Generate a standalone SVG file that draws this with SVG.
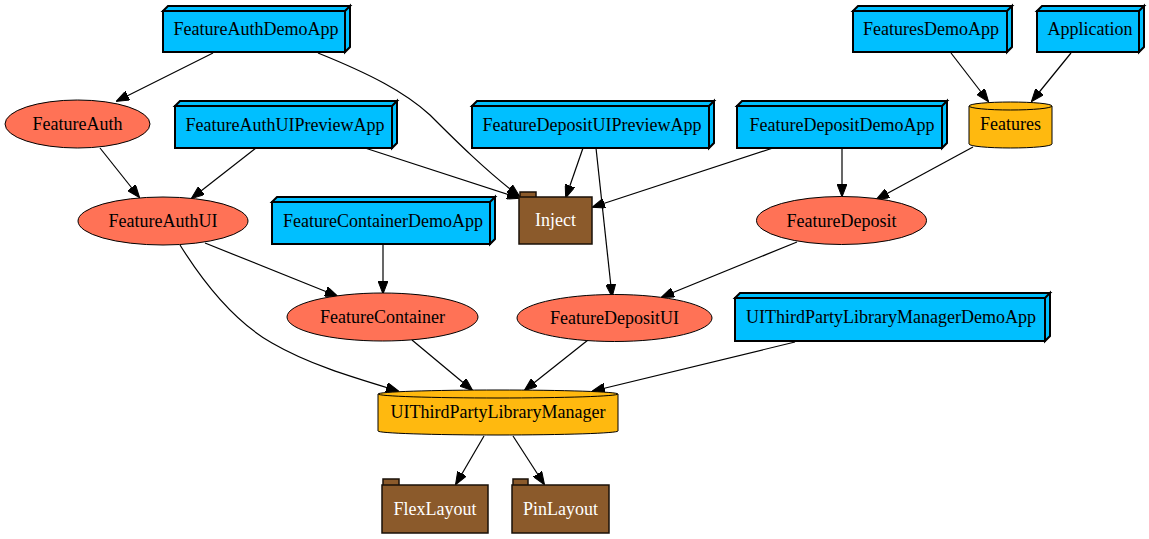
<svg xmlns="http://www.w3.org/2000/svg" width="1149" height="539" viewBox="0 0 1149 539">
<defs>
<marker id="arr" viewBox="0 0 13 10" refX="12" refY="5" markerWidth="13" markerHeight="10" markerUnits="userSpaceOnUse" orient="auto">
<path d="M0,0 L13,5 L0,10 Z" fill="#000" stroke="#000" stroke-width="1"/>
</marker>
</defs>
<style>
text{font-family:"Liberation Serif","Times New Roman",serif;font-size:18px;text-anchor:middle;fill:#000}
.b3 path{fill:#00BFFF;stroke:#000;stroke-width:2;stroke-linejoin:miter}
.el ellipse{fill:#FF7256;stroke:#000;stroke-width:1}
.cy path{fill:#FFB90F;stroke:#000;stroke-width:1}
.fo path{fill:#8B5A2B;stroke:#1a1008;stroke-width:1.5}
.fo text{fill:#fff}
#edges path{fill:none;stroke:#000;stroke-width:1.2;marker-end:url(#arr)}
</style>
<rect width="1149" height="539" fill="#fff"/>
<g id="edges">
<path d="M213,53 L117,101"/>
<path d="M318,53 C370,74 405,92 430,115 C455,140 485,170 519,196"/>
<path d="M100,148 L139,197"/>
<path d="M256,148 L192,198"/>
<path d="M365,148 L519,198"/>
<path d="M583,148 L566,197"/>
<path d="M596,148 L612,296"/>
<path d="M773,148 L593,207"/>
<path d="M842,148 L842,196"/>
<path d="M951,53 L988,101"/>
<path d="M1071,53 L1032,101"/>
<path d="M973,147 L877,199"/>
<path d="M205,243 L337,296"/>
<path d="M180,245 C205,285 235,322 272,343 C310,365 355,378 398,391"/>
<path d="M383,244 L383,293"/>
<path d="M797,242 L662,297"/>
<path d="M412,340 L472,390"/>
<path d="M588,340 L525,390"/>
<path d="M795,342 L593,391"/>
<path d="M484,436 L456,484"/>
<path d="M513,436 L544,484"/>
</g>
<g id="FeatureAuthDemoApp" class="b3">
<path d="M163,11 L168,6 L350,6 L345,11 Z M345,11 L350,6 L350,47 L345,52 Z M163,11 L345,11 L345,52 L163,52 Z"/>
<text x="256" y="35">FeatureAuthDemoApp</text>
</g>
<g id="FeaturesDemoApp" class="b3">
<path d="M853,11 L858,6 L1012,6 L1007,11 Z M1007,11 L1012,6 L1012,47 L1007,52 Z M853,11 L1007,11 L1007,52 L853,52 Z"/>
<text x="931" y="35">FeaturesDemoApp</text>
</g>
<g id="Application" class="b3">
<path d="M1037,11 L1042,6 L1144,6 L1139,11 Z M1139,11 L1144,6 L1144,47 L1139,52 Z M1037,11 L1139,11 L1139,52 L1037,52 Z"/>
<text x="1090" y="35">Application</text>
</g>
<g id="FeatureAuthUIPreviewApp" class="b3">
<path d="M175,106 L180,101 L397,101 L392,106 Z M392,106 L397,101 L397,143 L392,148 Z M175,106 L392,106 L392,148 L175,148 Z"/>
<text x="285" y="131">FeatureAuthUIPreviewApp</text>
</g>
<g id="FeatureDepositUIPreviewApp" class="b3">
<path d="M472,106 L477,101 L714,101 L709,106 Z M709,106 L714,101 L714,143 L709,148 Z M472,106 L709,106 L709,148 L472,148 Z"/>
<text x="592" y="131">FeatureDepositUIPreviewApp</text>
</g>
<g id="FeatureDepositDemoApp" class="b3">
<path d="M737,106 L742,101 L947,101 L942,106 Z M942,106 L947,101 L947,143 L942,148 Z M737,106 L942,106 L942,148 L737,148 Z"/>
<text x="842" y="131">FeatureDepositDemoApp</text>
</g>
<g id="FeatureContainerDemoApp" class="b3">
<path d="M272,202 L277,197 L495,197 L490,202 Z M490,202 L495,197 L495,239 L490,244 Z M272,202 L490,202 L490,244 L272,244 Z"/>
<text x="383" y="227">FeatureContainerDemoApp</text>
</g>
<g id="UIThirdPartyLibraryManagerDemoApp" class="b3">
<path d="M735,298 L740,293 L1050,293 L1045,298 Z M1045,298 L1050,293 L1050,336 L1045,341 Z M735,298 L1045,298 L1045,341 L735,341 Z"/>
<text x="891" y="323">UIThirdPartyLibraryManagerDemoApp</text>
</g>
<g id="FeatureAuth" class="el">
<ellipse cx="77.5" cy="124" rx="72.5" ry="24"/>
<text x="77.5" y="130">FeatureAuth</text>
</g>
<g id="FeatureAuthUI" class="el">
<ellipse cx="163" cy="221" rx="85" ry="24"/>
<text x="163" y="227">FeatureAuthUI</text>
</g>
<g id="FeatureDeposit" class="el">
<ellipse cx="841.5" cy="220.5" rx="85" ry="24"/>
<text x="841.5" y="226.5">FeatureDeposit</text>
</g>
<g id="FeatureContainer" class="el">
<ellipse cx="382.5" cy="317" rx="95.5" ry="24"/>
<text x="382.5" y="323">FeatureContainer</text>
</g>
<g id="FeatureDepositUI" class="el">
<ellipse cx="614.5" cy="318" rx="97.5" ry="23.5"/>
<text x="614.5" y="324">FeatureDepositUI</text>
</g>
<g id="Features" class="cy">
<path d="M969,106 A41.5,4 0 0 1 1052,106 L1052,144 A41.5,4 0 0 1 969,144 Z"/>
<path d="M969,106 A41.5,4 0 0 0 1052,106" fill="none"/>
<text x="1010.5" y="130">Features</text>
</g>
<g id="UIThirdPartyLibraryManager" class="cy">
<path d="M378,394 A120,4 0 0 1 618,394 L618,431 A120,4 0 0 1 378,431 Z"/>
<path d="M378,394 A120,4 0 0 0 618,394" fill="none"/>
<text x="498" y="418">UIThirdPartyLibraryManager</text>
</g>
<g id="Inject" class="fo">
<path d="M520,197 L520,192 L536,192 L536,197"/>
<path d="M519,197 L592,197 L592,244 L519,244 Z"/>
<text x="555.5" y="226">Inject</text>
</g>
<g id="FlexLayout" class="fo">
<path d="M383,485 L383,479 L399,479 L399,485"/>
<path d="M382,485 L488,485 L488,533 L382,533 Z"/>
<text x="435" y="515">FlexLayout</text>
</g>
<g id="PinLayout" class="fo">
<path d="M513,485 L513,479 L528,479 L528,485"/>
<path d="M512,485 L609,485 L609,533 L512,533 Z"/>
<text x="560.5" y="515">PinLayout</text>
</g>
</svg>
